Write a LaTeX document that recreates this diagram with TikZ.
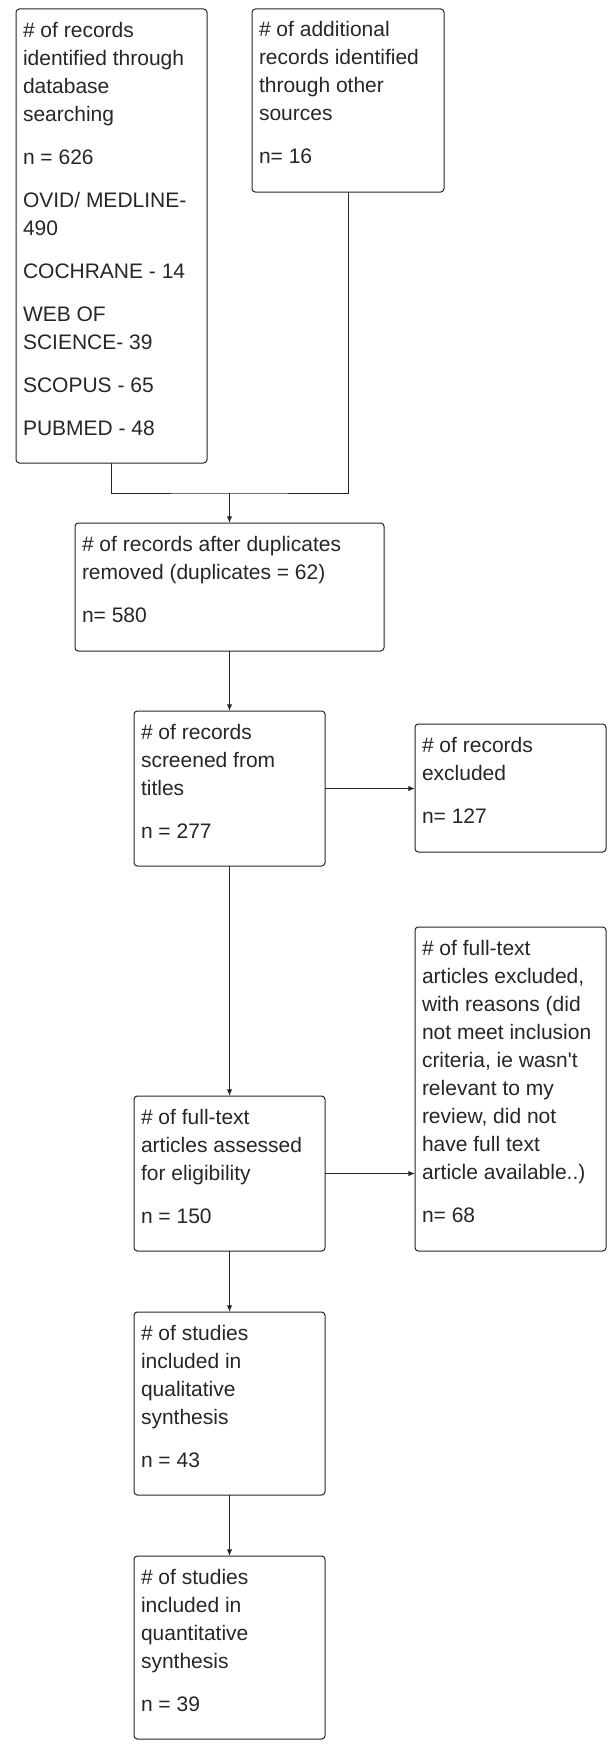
\documentclass[tikz,border=0pt]{standalone}
\usepackage{fontspec}
\newfontfamily\pfont{Liberation Sans}
\usetikzlibrary{arrows.meta}
\newcommand\firststrut{\rule{0pt}{16pt}}
\tikzset{
  box/.style 2 args={draw=black!85, line width=0.75pt, rounded corners=2.5pt, anchor=north west,
    inner sep=0pt, outer sep=0pt, minimum width=#1*0.75pt, minimum height=#2*0.75pt},
  txt/.style={anchor=north west, inner sep=0pt, outer sep=0pt, align=left,
    font=\pfont\fontsize{15.75pt}{21pt}\selectfont, text=black!85, yshift=16pt},
  arr/.style={-{Latex[length=5pt,width=4pt]}, line width=0.75pt, draw=black!85},
  lin/.style={line width=0.75pt, draw=black!85}
}
\begin{document}
\begin{tikzpicture}[x=0.75pt,y=-0.75pt]
\useasboundingbox (0,0) rectangle (608,1741);

% boxes
\node[box={191}{454}] (A) at (16,9) {};
\node[box={192}{183}] (B) at (252,9) {};
\node[box={309}{128}] (C) at (75,523) {};
\node[box={191}{155}] (D) at (134,711) {};
\node[box={191}{128}] (E) at (415,724) {};
\node[box={191}{324}] (F) at (415,927) {};
\node[box={191}{155}] (G) at (134,1096) {};
\node[box={191}{183}] (H) at (134,1312) {};
\node[box={191}{183}] (I) at (134,1556) {};

% texts
\node[txt] (tA) at (23,37) {\firststrut\# of records\\identified through\\database\\searching\\[11.25pt]
n = 626\\[11.25pt]OVID/ MEDLINE-\\490\\[11.25pt]COCHRANE - 14\\[11.25pt]WEB OF\\SCIENCE- 39\\[11.25pt]
SCOPUS - 65\\[11.25pt]PUBMED - 48};
\node[txt] (tB) at (259,37) {\firststrut\# of additional\\records identified\\through other\\sources\\[11.25pt]n= 16};
\node[txt] (tC) at (82,551) {\firststrut\# of records after duplicates\\removed (duplicates = 62)\\[11.25pt]n= 580};
\node[txt] (tD) at (141,739) {\firststrut\# of records\\screened from\\titles\\[11.25pt]n = 277};
\node[txt] (tE) at (422,752) {\firststrut\# of records\\excluded\\[11.25pt]n= 127};
\node[txt] (tF) at (422,955) {\firststrut\# of full-text\\articles excluded,\\with reasons (did\\not meet inclusion\\criteria, ie wasn't\\relevant to my\\review, did not\\have full text\\article available..)\\[11.25pt]n= 68};
\node[txt] (tG) at (141,1124) {\firststrut\# of full-text\\articles assessed\\for eligibility\\[11.25pt]n = 150};
\node[txt] (tH) at (141,1340) {\firststrut\# of studies\\included in\\qualitative\\synthesis\\[11.25pt]n = 43};
\node[txt] (tI) at (141,1584) {\firststrut\# of studies\\included in\\quantitative\\synthesis\\[11.25pt]n = 39};

% connectors
\path (C.north) ++(0,-30) coordinate (j);
\draw[lin] (A.south) |- (j) -| (B.south);
\draw[arr] (j) -- (C.north);
\draw[arr] (C.south) -- (D.north);
\draw[arr] (D.east) -- (D.east -| E.west);
\draw[arr] (D.south) -- (G.north);
\draw[arr] (G.east) -- (G.east -| F.west);
\draw[arr] (G.south) -- (H.north);
\draw[arr] (H.south) -- (I.north);
\end{tikzpicture}
\end{document}
